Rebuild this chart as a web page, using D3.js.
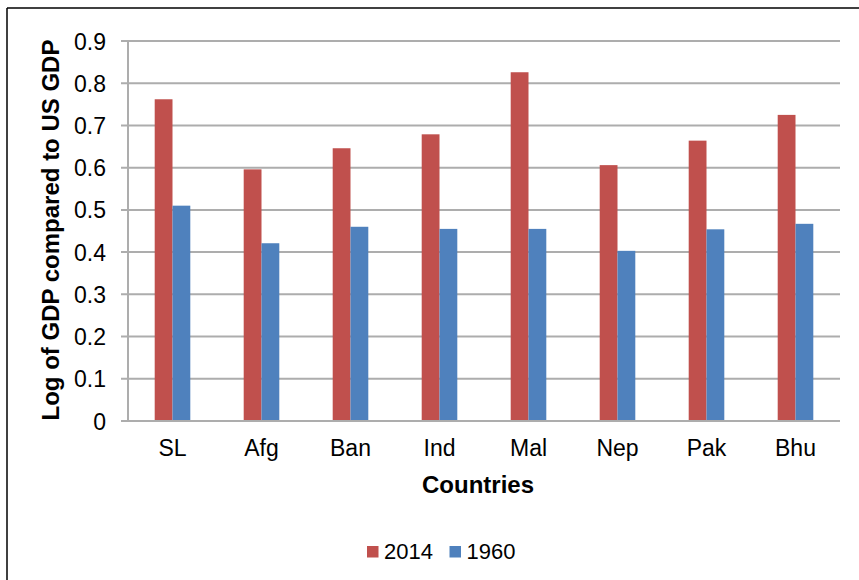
<!DOCTYPE html>
<html><head><meta charset="utf-8">
<script src="https://cdn.jsdelivr.net/npm/d3@7"></script>
<style>body{margin:0;background:#fff}svg{display:block}text{font-family:"Liberation Sans",Arial,sans-serif}</style>
</head><body>
<script>
const categories = ["SL","Afg","Ban","Ind","Mal","Nep","Pak","Bhu"];
const series2014 = [0.762,0.596,0.646,0.679,0.826,0.606,0.664,0.725];
const series1960 = [0.510,0.421,0.460,0.455,0.455,0.403,0.454,0.467];
const seriesNames = ["2014","1960"];
const yTicks = [0,0.1,0.2,0.3,0.4,0.5,0.6,0.7,0.8,0.9];

const W=859,H=580;
const FONT="Liberation Sans, Arial, sans-serif";
const svg=d3.select("body").append("svg").attr("width",W).attr("height",H);
svg.append("rect").attr("width",W).attr("height",H).attr("fill","#fff");
// border (top & left)
svg.append("line").attr("x1",7).attr("x2",W).attr("y1",8).attr("y2",8).attr("stroke","#000").attr("stroke-width",1.5);
svg.append("line").attr("x1",7).attr("x2",7).attr("y1",8).attr("y2",H).attr("stroke","#000").attr("stroke-width",1.5);

const L=128,R=840,T=41,B=421;
const x=d3.scaleBand().domain(categories).range([L,R]).paddingInner(0.6).paddingOuter(0.3);
const y=d3.scaleLinear().domain([0,0.9]).range([B,T]);
const colors={"2014":"#C0504D","1960":"#4F81BD"};

// gridlines
const g=svg.append("g");
g.selectAll("line.grid").data(yTicks).join("line")
 .attr("x1",L-7).attr("x2",R).attr("y1",d=>y(d)).attr("y2",d=>y(d))
 .attr("stroke","#ADADAD").attr("stroke-width",2);
// y axis line
g.append("line").attr("x1",L).attr("x2",L).attr("y1",T).attr("y2",B).attr("stroke","#ADADAD").attr("stroke-width",2);

// y tick labels via axis
const yAxis=d3.axisLeft(y).tickValues(yTicks).tickFormat(d=>d===0?"0":d3.format(".1f")(d)).tickSize(0).tickPadding(22);
const ya=svg.append("g").attr("transform",`translate(${L},0)`).call(yAxis);
ya.select(".domain").remove();
ya.selectAll("text").attr("font-size",23).attr("fill","#000").attr("font-family",FONT).attr("dy","0.35em");

// x tick labels
const xAxis=d3.axisBottom(x).tickSize(0).tickPadding(19);
const xa=svg.append("g").attr("transform",`translate(0,${B})`).call(xAxis);
xa.select(".domain").remove();
xa.selectAll("text").attr("font-size",23).attr("fill","#000").attr("font-family",FONT);

// bars
const data=categories.map((c,i)=>({c,v:[{s:"2014",v:series2014[i]},{s:"1960",v:series1960[i]}]}));
const xs=d3.scaleBand().domain(seriesNames).range([0,x.bandwidth()]);
const grp=svg.append("g").selectAll("g").data(data).join("g")
 .attr("transform",d=>`translate(${x(d.c)},0)`);
grp.selectAll("rect").data(d=>d.v).join("rect")
 .attr("x",d=>xs(d.s)).attr("width",xs.bandwidth())
 .attr("y",d=>y(d.v)).attr("height",d=>y(0)-y(d.v))
 .attr("fill",d=>colors[d.s]);

// x axis baseline on top
svg.append("line").attr("x1",L-7).attr("x2",R).attr("y1",B).attr("y2",B).attr("stroke","#ADADAD").attr("stroke-width",2);

// axis titles
svg.append("text").attr("transform",`translate(59,230) rotate(-90)`).attr("text-anchor","middle")
 .attr("font-size",24).attr("font-weight","bold").text("Log of GDP compared to US GDP");
svg.append("text").attr("x",478).attr("y",493).attr("text-anchor","middle")
 .attr("font-size",24).attr("font-weight","bold").text("Countries");

// legend
const leg=svg.append("g");
const legX=[367,449.5];
seriesNames.forEach((s,i)=>{
  leg.append("rect").attr("x",legX[i]).attr("y",546).attr("width",11.5).attr("height",11.5).attr("fill",colors[s]);
  leg.append("text").attr("x",legX[i]+17).attr("y",559).attr("font-size",22).text(s);
});
</script>
</body></html>
